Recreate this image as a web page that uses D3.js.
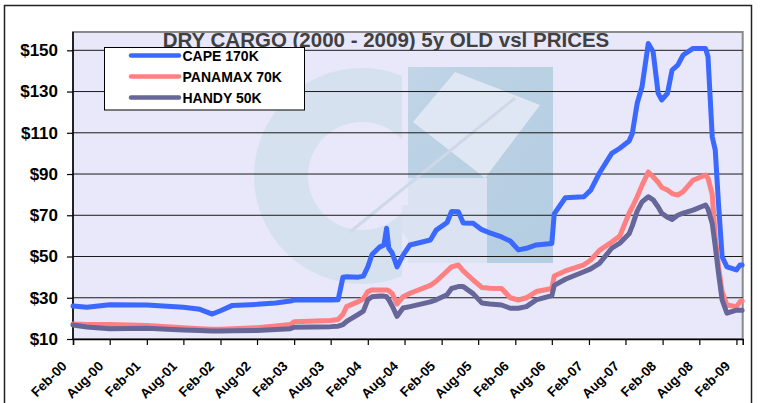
<!DOCTYPE html>
<html>
<head>
<meta charset="utf-8">
<script src="https://cdn.jsdelivr.net/npm/d3@7/dist/d3.min.js"></script>
<style>
  html, body { margin: 0; padding: 0; background: #ffffff; }
  svg { display: block; }
  text { font-family: "Liberation Sans", Arial, Helvetica, sans-serif; font-weight: bold; }
</style>
</head>
<body>
<svg id="chart" width="761" height="403"></svg>
<script>
// ---------------- data ----------------
const title = "DRY CARGO (2000 - 2009) 5y OLD vsl PRICES";
const seriesNames = ["CAPE 170K", "PANAMAX 70K", "HANDY 50K"];
const seriesColors = ["#3b68ff", "#ff8080", "#666699"];
const yTickValues = [10, 30, 50, 70, 90, 110, 130, 150];
const xTickLabels = ["Feb-00","Aug-00","Feb-01","Aug-01","Feb-02","Aug-02","Feb-03","Aug-03",
  "Feb-04","Aug-04","Feb-05","Aug-05","Feb-06","Aug-06","Feb-07","Aug-07","Feb-08","Aug-08","Feb-09"];
const dates = [
  "2000-02-01","2000-04-10","2000-08-01","2001-02-01","2001-08-01","2001-10-22","2001-12-22","2002-02-01",
  "2002-04-01","2002-08-01","2002-11-01","2003-01-13","2003-02-01","2003-08-01","2003-09-07","2003-10-01",
  "2003-10-19","2003-12-16","2004-01-10","2004-02-01","2004-02-22","2004-04-01","2004-04-21","2004-05-04",
  "2004-05-15","2004-06-01","2004-06-25","2004-07-25","2004-08-28","2004-12-07","2005-01-05","2005-02-28",
  "2005-03-22","2005-04-25","2005-05-19","2005-07-07","2005-08-19","2005-09-28","2005-11-25","2006-01-07",
  "2006-02-16","2006-03-28","2006-05-16","2006-08-01","2006-08-13","2006-10-07","2007-01-07","2007-02-10",
  "2007-03-25","2007-05-25","2007-07-04","2007-08-19","2007-09-04","2007-09-28","2007-10-22","2007-11-22",
  "2007-12-16","2008-01-10","2008-01-28","2008-02-25","2008-03-19","2008-04-16","2008-05-13","2008-07-01",
  "2008-09-01","2008-09-13","2008-10-04","2008-10-19","2008-11-04","2008-11-22","2008-12-16","2009-02-01",
  "2009-02-19","2009-03-01"];
const cape = [
  26.0,25.4,26.6,26.5,25.4,24.4,22.1,23.7,
  26.3,26.8,27.5,28.4,28.9,28.9,29.0,40.0,
  40.2,40.0,40.5,45.0,51.0,54.7,55.5,63.7,
  54.0,51.7,45.0,50.7,55.6,58.0,62.8,66.5,
  71.8,71.7,66.3,66.1,63.0,61.5,59.5,57.5,
  53.2,54.0,55.6,56.3,70.7,78.5,79.0,82.2,
  90.5,100.0,102.5,106.0,109.7,124.3,132.3,153.3,
  149.3,129.1,125.9,129.1,140.4,142.8,147.7,150.9,
  150.9,146.9,108.1,101.6,75.8,49.9,45.0,43.5,
  45.9,45.9];
const panamax = [
  17.3,17.0,17.0,16.5,15.5,15.0,14.7,14.7,
  15.0,15.5,16.3,17.0,18.4,19.0,19.5,22.0,
  25.7,28.1,29.5,33.0,33.8,33.8,33.8,33.8,
  33.5,32.0,27.0,30.5,32.2,36.0,38.0,43.0,
  45.0,45.9,43.0,38.6,35.0,34.6,34.5,30.0,
  28.9,30.0,33.0,34.5,40.5,43.0,46.0,48.3,
  53.0,57.0,60.0,71.0,74.0,79.0,84.5,91.0,
  88.7,86.0,83.5,82.2,80.5,79.8,81.5,87.0,
  89.5,88.0,80.0,59.6,45.0,33.0,26.5,25.7,
  28.1,28.5];
const handy = [
  16.8,15.8,15.0,15.2,14.4,14.1,13.9,13.9,
  14.0,14.1,14.6,15.0,15.7,16.0,16.2,17.0,
  18.5,22.0,23.5,29.0,30.5,30.8,30.8,30.5,
  29.0,26.0,21.0,25.0,25.7,28.0,29.0,31.5,
  34.5,35.4,35.4,32.0,27.5,27.0,26.5,24.9,
  24.9,25.7,29.0,31.0,36.0,39.0,42.6,44.0,
  46.7,54.0,56.5,61.0,65.0,72.0,76.5,79.0,
  77.5,74.0,71.0,69.0,68.0,70.0,71.0,72.5,
  75.0,73.0,66.0,55.0,42.0,29.0,22.5,24.0,
  24.0,24.0];
const xDomainDates = ["2000-02-01", "2009-03-04"];

// ---------------- layout ----------------
const svg = d3.select("#chart");
const plot = { left: 73, top: 32, right: 742.7, bottom: 339 };
const parseDay = d3.timeParse("%Y-%m-%d");
const parseTick = d3.timeParse("%b-%y");

const x = d3.scaleTime()
  .domain(xDomainDates.map(parseDay))
  .range([plot.left, plot.right]);
const y = d3.scaleLinear().domain([10, 150]).range([plot.bottom, 50.3]);

// outer frame
svg.append("rect")
  .attr("x", 4.5).attr("y", 5.5).attr("width", 747).attr("height", 430)
  .attr("fill", "#ffffff").attr("stroke", "#222").attr("stroke-width", 1.5);

// plot background
svg.append("rect")
  .attr("x", plot.left).attr("y", plot.top)
  .attr("width", plot.right - plot.left).attr("height", plot.bottom - plot.top)
  .attr("fill", "#e8e8fa").attr("stroke", "#8a8a8a").attr("stroke-width", 2);

// watermark logo (decorative)
const defs = svg.append("defs");
const grad = defs.append("linearGradient").attr("id", "wm")
  .attr("gradientUnits", "userSpaceOnUse")
  .attr("x1", 250).attr("y1", 60).attr("x2", 560).attr("y2", 290);
grad.append("stop").attr("offset", "0").attr("stop-color", "#d3e0ee");
grad.append("stop").attr("offset", "0.45").attr("stop-color", "#b6cfe2");
grad.append("stop").attr("offset", "1").attr("stop-color", "#aac8dd");
defs.append("clipPath").attr("id", "ringClip")
  .append("rect").attr("x", 240).attr("y", 50).attr("width", 162).attr("height", 260);
const wm = svg.append("g").attr("opacity", 0.85);
const arc = d3.arc();
wm.append("g").attr("clip-path", "url(#ringClip)")
  .append("path")
  .attr("transform", "translate(362,176)")
  .attr("d", arc({ innerRadius: 54, outerRadius: 108, startAngle: 0, endAngle: 2 * Math.PI }))
  .attr("fill", "url(#wm)");
wm.append("rect").attr("x", 408).attr("y", 67).attr("width", 145).attr("height", 196)
  .attr("fill", "url(#wm)");
wm.append("path")
  .attr("d", "M455,72 L540,105 L485,178 L413,122 Z")
  .attr("fill", "#dfe7f4");
wm.append("path")
  .attr("d", "M408,178 L487,178 L487,263 L408,263 Z")
  .attr("fill", "#d9e3f1");
wm.append("path")
  .attr("d", "M402,205 L408,205 L408,240 L402,232 Z")
  .attr("fill", "#d9e3f1");
wm.append("line").attr("x1", 350).attr("y1", 232).attr("x2", 515).attr("y2", 98)
  .attr("stroke", "#c9d6e7").attr("stroke-width", 3);

// gridlines
svg.append("g").selectAll("line")
  .data(yTickValues.filter(v => v > 10))
  .join("line")
  .attr("x1", plot.left).attr("x2", plot.right)
  .attr("y1", d => y(d)).attr("y2", d => y(d))
  .attr("stroke", "#1a1a1a").attr("stroke-width", 1);

// y axis
const yAxis = svg.append("g")
  .attr("transform", `translate(${plot.left},0)`)
  .call(d3.axisLeft(y).tickValues(yTickValues).tickSize(6).tickPadding(9).tickFormat(d => "$" + d));
yAxis.select(".domain").attr("stroke", "#000").attr("stroke-width", 1.5).attr("d", `M0,${plot.top}V${plot.bottom}`);
yAxis.selectAll(".tick line").attr("stroke", "#000").attr("stroke-width", 1.2);
yAxis.selectAll(".tick text")
  .attr("font-size", 17).attr("fill", "#000")
  .attr("font-family", "'Liberation Sans', Arial, sans-serif").attr("font-weight", "bold");

// x axis
const tickDates = xTickLabels.map(parseTick);
const xAxis = svg.append("g")
  .attr("transform", `translate(0,${plot.bottom})`)
  .call(d3.axisBottom(x).tickValues(tickDates).tickSize(6).tickFormat((d, i) => xTickLabels[i]));
xAxis.select(".domain").attr("stroke", "#000").attr("stroke-width", 1.5);
xAxis.selectAll(".tick line").attr("stroke", "#000").attr("stroke-width", 1.2);
xAxis.selectAll(".tick text")
  .attr("font-size", 13.5).attr("fill", "#000")
  .attr("font-family", "'Liberation Sans', Arial, sans-serif").attr("font-weight", "bold")
  .attr("text-anchor", "end")
  .attr("y", 0).attr("dy", 0)
  .attr("transform", "translate(-6,28) rotate(-45)");

// series lines
const seriesValues = [cape, panamax, handy];
const parsedDates = dates.map(parseDay);
const line = d3.line()
  .x((d, i) => x(parsedDates[i]))
  .y(d => y(d));
seriesValues.forEach((vals, k) => {
  svg.append("path")
    .datum(vals)
    .attr("d", line)
    .attr("fill", "none")
    .attr("stroke", seriesColors[k])
    .attr("stroke-width", 5)
    .attr("stroke-linejoin", "round")
    .attr("stroke-linecap", "round");
});

// title
svg.append("text")
  .attr("x", 386).attr("y", 46.5)
  .attr("text-anchor", "middle")
  .attr("font-size", 20.5)
  .attr("fill", "#404040")
  .text(title);

// legend
const lg = svg.append("g");
lg.append("rect").attr("x", 104.5).attr("y", 47.5).attr("width", 200).attr("height", 62.5)
  .attr("fill", "#fff").attr("stroke", "#000").attr("stroke-width", 1);
const legendY = d3.scalePoint().domain(seriesNames).range([55.5, 97.5]);
seriesNames.forEach((name, k) => {
  const yy = legendY(name);
  lg.append("line").attr("x1", 131).attr("x2", 179).attr("y1", yy).attr("y2", yy)
    .attr("stroke", seriesColors[k]).attr("stroke-width", 4.5).attr("stroke-linecap", "round");
  lg.append("text").attr("x", 182.5).attr("y", yy + 5)
    .attr("font-size", 14).attr("fill", "#000").text(name);
});
</script>
</body>
</html>
